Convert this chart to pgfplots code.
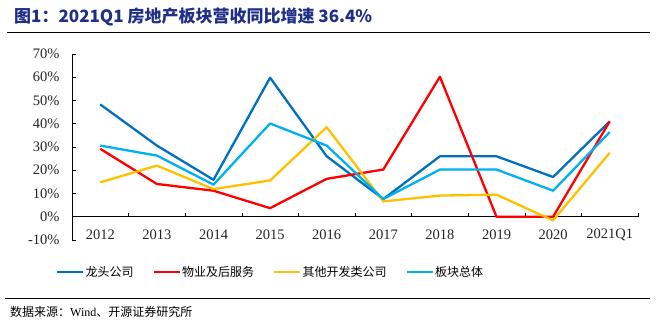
\documentclass[border=0pt]{standalone}
\usepackage{pgfplots}
\pgfplotsset{compat=1.18}
\usepackage{fontspec}
\setmainfont{Liberation Serif}
\newfontfamily\cjk{Noto Sans CJK SC}
\definecolor{dblue}{HTML}{0070C0}
\definecolor{lblue}{HTML}{00B0F0}
\definecolor{cred}{HTML}{FF0000}
\definecolor{cyellow}{HTML}{FFC000}
\definecolor{titleblue}{HTML}{1F2F86}
\begin{document}
\begin{tikzpicture}
\useasboundingbox (0pt,0pt) rectangle (656pt,331pt);
\node[anchor=west, text=titleblue, font=\cjk\bfseries\fontsize{17}{19}\selectfont, inner sep=0pt] at (14pt,314pt) {图1：2021Q1 房地产板块营收同比增速 36.4\%};
\draw[line width=1pt] (7pt,298pt) -- (650pt,298pt);
\draw[line width=1pt] (5pt,32pt) -- (650pt,32pt);
\node[anchor=west, inner sep=0pt, font=\fontsize{12}{14}\selectfont] at (10pt,19pt) {{\cjk 数据来源：}Wind{\cjk 、开源证券研究所}};
\begin{axis}[
  at={(72pt,91pt)}, anchor=south west,
  width=566pt, height=186pt, scale only axis,
  xmin=-0.5, xmax=9.5, ymin=-10, ymax=70,
  axis x line*=bottom, axis y line*=left,
  x axis line style={draw=none},
  y axis line style={black, line width=0.8pt, -},
  xtick={0,...,9},
  xticklabels={2012,2013,2014,2015,2016,2017,2018,2019,2020,2021Q1},
  xtick style={draw=none},
  ytick={-10,0,10,20,30,40,50,60,70},
  yticklabels={-10\%,0\%,10\%,20\%,30\%,40\%,50\%,60\%,70\%},
  ytick style={black, line width=0.6pt},
  tick align=inside, major tick length=4pt,
  yticklabel style={font=\fontsize{14.5}{16}\selectfont, anchor=east, xshift=-9pt, text=black!85},
  xticklabel style={font=\fontsize{14.5}{16}\selectfont, anchor=center, yshift=5pt, text=black!85},
  legend columns=4,
  legend style={at={(0.35,-0.172)}, anchor=center, draw=none, fill=none,
    font=\cjk\fontsize{12}{14}\selectfont, nodes={inner sep=1pt},
    /tikz/every even column/.append style={column sep=18pt}},
  legend image code/.code={\draw[#1, line width=2.5pt] (0pt,0pt) -- (26pt,0pt);},
  every axis plot/.append style={line width=2.3pt, mark=none, line join=round},
  clip=false,
]
\draw[black, line width=0.8pt] (axis cs:-0.5,0) -- (axis cs:9.5,0);
\pgfplotsinvokeforeach{0.5,1.5,2.5,3.5,4.5,5.5,6.5,7.5,8.5,9.5}{
  \draw[black, line width=0.6pt] (axis cs:#1,0) -- ++(0pt,4pt);
}
\addplot[dblue] coordinates {(0,48.3) (1,30.6) (2,15.9) (3,59.8) (4,26.0) (5,7.6) (6,26.0) (7,26.0) (8,17.1) (9,41.0)};
\addlegendentry{龙头公司}
\addplot[cred] coordinates {(0,29.2) (1,14.1) (2,11.2) (3,3.7) (4,16.3) (5,20.3) (6,60.2) (7,0) (8,0) (9,41.0)};
\addlegendentry{物业及后服务}
\addplot[cyellow] coordinates {(0,14.8) (1,22.0) (2,11.9) (3,15.6) (4,38.5) (5,6.6) (6,9.1) (7,9.5) (8,-1.6) (9,27.5)};
\addlegendentry{其他开发类公司}
\addplot[lblue] coordinates {(0,30.6) (1,26.3) (2,13.8) (3,40.1) (4,30.6) (5,7.6) (6,20.3) (7,20.3) (8,11.2) (9,36.4)};
\addlegendentry{板块总体}
\end{axis}
\end{tikzpicture}
\end{document}
